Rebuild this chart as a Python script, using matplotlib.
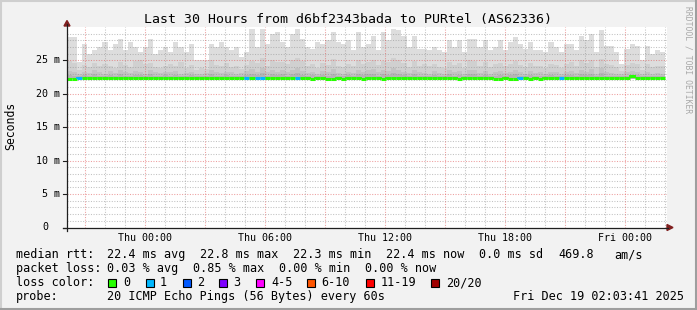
import matplotlib
matplotlib.use('Agg')
import matplotlib.pyplot as plt
from matplotlib.patches import Polygon, Rectangle
from matplotlib.lines import Line2D
import numpy as np

# ---------------- data ----------------
title = "Last 30 Hours from d6bf2343bada to PURtel (AS62336)"
x_tick_hours = [0, 6, 12, 18, 24]
x_tick_labels = ["Thu 00:00", "Thu 06:00", "Thu 12:00", "Thu 18:00", "Fri 00:00"]
y_tick_values = [0, 5, 10, 15, 20, 25]
y_tick_labels = ["0", "5 m", "10 m", "15 m", "20 m", "25 m"]

start_hour = -3.875   # hours relative to Thu 00:00
data_span = 29.9      # hours covered by data

smoke_min = 22.2
smoke_max = [
    28.5, 28.5, 24.7, 27.5, 26.0, 26.5, 27.0, 27.7, 26.5, 27.5,
    28.2, 26.5, 27.7, 27.0, 26.2, 27.0, 28.2, 26.0, 26.5, 27.0,
    26.2, 27.7, 27.0, 26.2, 27.5, 25.0, 25.0, 25.0, 27.5, 27.0,
    27.7, 27.0, 26.5, 27.0, 25.5, 26.2, 29.7, 27.0, 29.7, 27.5,
    29.0, 29.3, 27.7, 27.0, 29.0, 29.7, 28.2, 27.0, 26.7, 27.7,
    27.5, 28.0, 29.3, 27.7, 27.5, 28.0, 26.5, 29.3, 27.0, 27.5,
    28.7, 26.5, 29.3, 28.0, 29.7, 29.5, 28.7, 27.0, 28.7, 26.7,
    26.7, 26.5, 27.0, 26.5, 26.2, 28.0, 27.0, 28.0, 26.2, 28.2,
    28.2, 27.0, 28.0, 26.5, 27.0, 28.0, 26.5, 27.7, 28.5, 27.5,
    26.7, 27.7, 26.5, 26.5, 26.2, 27.7, 27.0, 26.2, 27.5, 27.5,
    26.5, 28.7, 28.0, 29.0, 26.2, 29.5, 27.2, 27.2, 26.2, 24.5,
    26.7, 27.5, 27.2, 25.0, 27.2, 26.0, 26.5, 26.2,
]
smoke_mid = [
    24.9, 24.6, 23.6, 24.3, 24.0, 24.6, 24.1, 24.4, 24.2, 23.9,
    24.7, 24.3, 24.0, 24.9, 25.1, 24.4, 24.6, 24.0, 23.8, 24.2,
    24.5, 24.1, 24.7, 23.9, 24.3, 23.6, 23.8, 23.7, 25.0, 24.3,
    24.1, 24.6, 24.0, 24.2, 23.7, 24.3, 24.9, 24.6, 25.3, 24.2,
    25.1, 24.7, 24.8, 24.4, 25.0, 25.3, 24.9, 24.2, 24.4, 23.9,
    24.6, 24.3, 25.2, 24.1, 24.0, 24.5, 24.2, 25.0, 24.4, 24.7,
    25.1, 24.3, 24.9, 24.8, 25.3, 25.0, 24.6, 24.0, 24.9, 24.1,
    24.4, 24.2, 24.5, 24.0, 23.9, 24.8, 24.3, 24.6, 23.8, 25.0,
    24.9, 24.2, 24.7, 24.0, 24.4, 24.6, 24.1, 24.5, 24.9, 24.3,
    24.0, 24.6, 24.2, 24.1, 23.8, 24.4, 24.3, 23.9, 24.5, 24.7,
    24.1, 25.0, 24.6, 25.1, 24.0, 25.2, 24.4, 24.3, 24.0, 23.4,
    24.3, 24.6, 24.5, 23.6, 24.4, 24.0, 24.2, 24.1,
]
smoke_low = [
    23.4, 23.2, 22.9, 23.3, 23.1, 23.5, 23.2, 23.0, 23.4, 23.1,
    23.6, 23.2, 23.1, 23.4, 23.3, 23.0, 23.5, 23.2, 23.1, 23.3,
    23.2, 23.4, 23.0, 23.1, 23.3, 22.9, 23.0, 23.1, 23.6, 23.2,
    23.1, 23.3, 23.2, 23.0, 23.1, 23.4, 23.7, 23.3, 23.8, 23.2,
    23.6, 23.3, 23.5, 23.2, 23.6, 23.9, 23.4, 23.1, 23.3, 23.0,
    23.4, 23.2, 23.7, 23.1, 23.0, 23.3, 23.1, 23.6, 23.3, 23.5,
    23.7, 23.2, 23.6, 23.4, 23.8, 23.6, 23.3, 23.1, 23.5, 23.2,
    23.1, 23.0, 23.4, 23.1, 23.0, 23.5, 23.2, 23.4, 23.0, 23.6,
    23.5, 23.1, 23.4, 23.0, 23.2, 23.4, 23.1, 23.3, 23.6, 23.2,
    23.0, 23.4, 23.1, 23.2, 22.9, 23.3, 23.2, 23.0, 23.3, 23.4,
    23.1, 23.6, 23.3, 23.7, 23.0, 23.8, 23.2, 23.1, 23.0, 22.9,
    23.2, 23.4, 23.3, 22.9, 23.2, 23.0, 23.1, 23.0,
]
smoke_dark = [
    22.8, 22.7, 22.6, 22.8, 22.7, 22.9, 22.7, 22.6, 22.8, 22.7,
    22.9, 22.7, 22.7, 22.8, 22.8, 22.6, 22.9, 22.7, 22.7, 22.8,
    22.7, 22.8, 22.6, 22.7, 22.8, 22.6, 22.6, 22.7, 22.9, 22.7,
    22.7, 22.8, 22.7, 22.6, 22.7, 22.8, 23.0, 22.8, 23.1, 22.7,
    22.9, 22.8, 22.9, 22.7, 22.9, 23.1, 22.8, 22.7, 22.8, 22.6,
    22.8, 22.7, 23.0, 22.7, 22.6, 22.8, 22.7, 22.9, 22.8, 22.9,
    23.0, 22.7, 22.9, 22.8, 23.1, 22.9, 22.8, 22.7, 22.9, 22.7,
    22.7, 22.6, 22.8, 22.7, 22.6, 22.9, 22.7, 22.8, 22.6, 22.9,
    22.9, 22.7, 22.8, 22.6, 22.7, 22.8, 22.7, 22.8, 22.9, 22.7,
    22.6, 22.8, 22.7, 22.7, 22.6, 22.8, 22.7, 22.6, 22.8, 22.8,
    22.7, 22.9, 22.8, 23.0, 22.6, 23.1, 22.7, 22.7, 22.6, 22.6,
    22.7, 22.8, 22.8, 22.6, 22.7, 22.6, 22.7, 22.6,
]
median_ms = [
    22.25, 22.25, 22.4, 22.4, 22.4, 22.4, 22.4, 22.4, 22.4, 22.4,
    22.4, 22.4, 22.4, 22.4, 22.4, 22.4, 22.4, 22.4, 22.4, 22.4,
    22.4, 22.4, 22.4, 22.4, 22.4, 22.4, 22.4, 22.4, 22.4, 22.4,
    22.4, 22.4, 22.4, 22.4, 22.4, 22.4, 22.4, 22.4, 22.4, 22.4,
    22.4, 22.4, 22.4, 22.4, 22.4, 22.4, 22.4, 22.4, 22.25, 22.4,
    22.4, 22.25, 22.25, 22.4, 22.25, 22.4, 22.4, 22.4, 22.25, 22.4,
    22.4, 22.4, 22.25, 22.4, 22.4, 22.4, 22.4, 22.4, 22.4, 22.4,
    22.4, 22.4, 22.4, 22.4, 22.4, 22.4, 22.4, 22.25, 22.4, 22.4,
    22.4, 22.4, 22.4, 22.4, 22.25, 22.25, 22.4, 22.25, 22.25, 22.4,
    22.4, 22.25, 22.4, 22.25, 22.4, 22.4, 22.4, 22.4, 22.4, 22.4,
    22.4, 22.4, 22.4, 22.4, 22.4, 22.4, 22.4, 22.4, 22.4, 22.4,
    22.4, 22.7, 22.4, 22.4, 22.4, 22.4, 22.4, 22.4,
]
loss_count = [
    0, 0, 1, 0, 0, 0, 0, 0, 0, 0,
    0, 0, 0, 0, 0, 0, 0, 0, 0, 0,
    0, 0, 0, 0, 0, 0, 0, 0, 0, 0,
    0, 0, 0, 0, 0, 1, 0, 1, 1, 0,
    0, 0, 0, 0, 0, 1, 0, 0, 0, 0,
    0, 0, 0, 0, 0, 0, 0, 0, 0, 0,
    0, 0, 0, 0, 0, 0, 0, 0, 0, 0,
    0, 0, 0, 0, 0, 0, 0, 0, 0, 0,
    0, 0, 0, 0, 0, 0, 0, 0, 0, 1,
    0, 0, 0, 0, 0, 0, 0, 1, 0, 0,
    0, 0, 0, 0, 0, 0, 0, 0, 0, 0,
    0, 0, 0, 0, 0, 0, 0, 0,
]

loss_labels = ["0", "1", "2", "3", "4-5", "6-10", "11-19", "20/20"]
loss_colors = ["#26ff00", "#00b8ff", "#0059ff", "#7e00ff", "#ff00ff",
               "#ff5500", "#ff0000", "#a10000"]

line1 = ["median rtt:", "22.4 ms avg", "22.8 ms max", "22.3 ms min",
         "22.4 ms now", "0.0 ms sd", "469.8", "am/s"]
line2 = ["packet loss:", "0.03 % avg", "0.85 % max", "0.00 % min", "0.00 % now"]
probe_text = ["probe:", "20 ICMP Echo Pings (56 Bytes) every 60s",
              "Fri Dec 19 02:03:41 2025"]

# ---------------- figure ----------------
W, H = 697, 310
MONO = 'DejaVu Sans Mono'
BG = '#f2f2f2'
fig = plt.figure(figsize=(W / 100, H / 100), dpi=100, facecolor=BG)


def fx(px):
    return px / W


def fy(py):
    return 1 - py / H


L, R, B, T = 67, 667, 227.5, 27
ax = fig.add_axes([fx(L), fy(B), (R - L) / W, (B - T) / H])
ax.set_facecolor('white')
ax.set_xlim(start_hour, start_hour + 30)
ax.set_ylim(0, 30)
for s in ax.spines.values():
    s.set_visible(False)
ax.set_xticks([])
ax.set_yticks([])

N = len(smoke_max)
edges = np.linspace(start_hour, start_hour + data_span, N + 1)
base = np.full(N, smoke_min)

ax.stairs(smoke_max, edges, baseline=base, fill=True, color='#dddddd', lw=0, zorder=1)
ax.stairs(smoke_mid, edges, baseline=base, fill=True, color='#d0d0d0', lw=0, zorder=1.1)
ax.stairs(smoke_low, edges, baseline=base, fill=True, color='#c3c3c3', lw=0, zorder=1.2)
ax.stairs(smoke_dark, edges, baseline=base, fill=True, color='#b5b5b5', lw=0, zorder=1.3)

# grid
minor_c = (0.56, 0.56, 0.56, 0.55)
major_c = (0.87, 0.31, 0.31, 0.55)
dash = (0, (1, 1.5))
for v in range(1, 30):
    c = major_c if v % 5 == 0 else minor_c
    ax.axhline(v, color=c, lw=0.75, ls=dash, zorder=2)
h0 = int(np.ceil(start_hour))
for h in range(h0, int(start_hour + 30) + 1):
    c = major_c if h % 3 == 0 else minor_c
    ax.axvline(h, color=c, lw=0.75, ls=dash, zorder=2)

# median line colored by loss
def loss_color(n):
    if n <= 3:
        return loss_colors[n]
    if n <= 5:
        return loss_colors[4]
    if n <= 10:
        return loss_colors[5]
    if n <= 19:
        return loss_colors[6]
    return loss_colors[7]

seg_colors = [loss_color(n) for n in loss_count]
ax.hlines(median_ms, edges[:-1], edges[1:], colors=seg_colors, lw=2.2,
          zorder=3, capstyle='butt')
for i in range(1, N):
    if median_ms[i] != median_ms[i - 1]:
        lo, hi = sorted([median_ms[i], median_ms[i - 1]])
        ax.vlines(edges[i], lo - 0.1, hi + 0.1, colors=seg_colors[i], lw=1.2, zorder=3)

# axes lines and arrows
axis_c = '#1f1f1f'
arrow_c = '#801f1f'
fig.add_artist(Line2D([fx(63), fx(668)], [fy(B), fy(B)], color=axis_c, lw=0.9))
fig.add_artist(Line2D([fx(L), fx(L)], [fy(231), fy(24)], color=axis_c, lw=0.9))
fig.add_artist(Polygon([[fx(64), fy(26)], [fx(70), fy(26)], [fx(67), fy(20.5)]],
                       closed=True, color=arrow_c, transform=fig.transFigure))
fig.add_artist(Polygon([[fx(667), fy(B - 3)], [fx(667), fy(B + 3)], [fx(673), fy(B)]],
                       closed=True, color=arrow_c, transform=fig.transFigure))

px_per_ms = (B - T) / 30.0
for v, lab in zip(y_tick_values, y_tick_labels):
    py = B - v * px_per_ms
    fig.add_artist(Line2D([fx(63), fx(L)], [fy(py), fy(py)], color=axis_c, lw=0.8))
    xr = 48 if lab == "0" else 60
    fig.text(fx(xr), fy(py), lab, ha='right', va='center', fontsize=7.2,
             family=MONO, color='black')

px_per_h = (R - L) / 30.0
for h, lab in zip(x_tick_hours, x_tick_labels):
    px = L + (h - start_hour) * px_per_h
    fig.text(fx(px), fy(238), lab, ha='center', va='center', fontsize=7.2,
             family=MONO, color='black')

# title, labels
fig.text(fx(348), fy(19), title, ha='center', va='center', fontsize=9.5,
         family=MONO, color='black')
fig.text(fx(11), fy(126), "Seconds", ha='center', va='center', rotation=90,
         fontsize=8.3, family=MONO, color='black')
fig.text(fx(688), fy(60), "RRDTOOL / TOBI OETIKER", ha='center', va='center',
         rotation=270, fontsize=5.8, family=MONO, color='#a8a8a8')

# legend
FS = 8.5
x1 = [16, 107, 200, 293, 386, 479, 558, 614]
for x, s in zip(x1, line1):
    fig.text(fx(x), fy(254.5), s, ha='left', va='center', fontsize=FS, family=MONO)
x2 = [16, 107, 193, 279, 365]
for x, s in zip(x2, line2):
    fig.text(fx(x), fy(268.5), s, ha='left', va='center', fontsize=FS, family=MONO)
fig.text(fx(16), fy(282.5), "loss color:", ha='left', va='center', fontsize=FS, family=MONO)
box_x = [108, 146, 183, 219, 256, 307, 366, 431]
lab_x = [123, 160, 197, 233, 271, 321, 381, 446]
for bx, lx, lab, col in zip(box_x, lab_x, loss_labels, loss_colors):
    fig.add_artist(Rectangle((fx(bx), fy(286.5)), 8 / W, 8 / H, facecolor=col,
                             edgecolor='black', lw=0.8, transform=fig.transFigure))
    fig.text(fx(lx), fy(282.5), lab, ha='left', va='center', fontsize=FS, family=MONO)
x4 = [16, 107, 513]
for x, s in zip(x4, probe_text):
    fig.text(fx(x), fy(296.5), s, ha='left', va='center', fontsize=FS, family=MONO)

# frame shading
fig.add_artist(Line2D([0, 1], [fy(1), fy(1)], color='#cfcfcf', lw=1.5))
fig.add_artist(Line2D([fx(1), fx(1)], [0, 1], color='#cfcfcf', lw=1.5))
fig.add_artist(Line2D([0, 1], [fy(309), fy(309)], color='#9e9e9e', lw=1.5))
fig.add_artist(Line2D([fx(696), fx(696)], [0, 1], color='#9e9e9e', lw=1.5))

fig.savefig('out.png', dpi=100, facecolor=BG)
